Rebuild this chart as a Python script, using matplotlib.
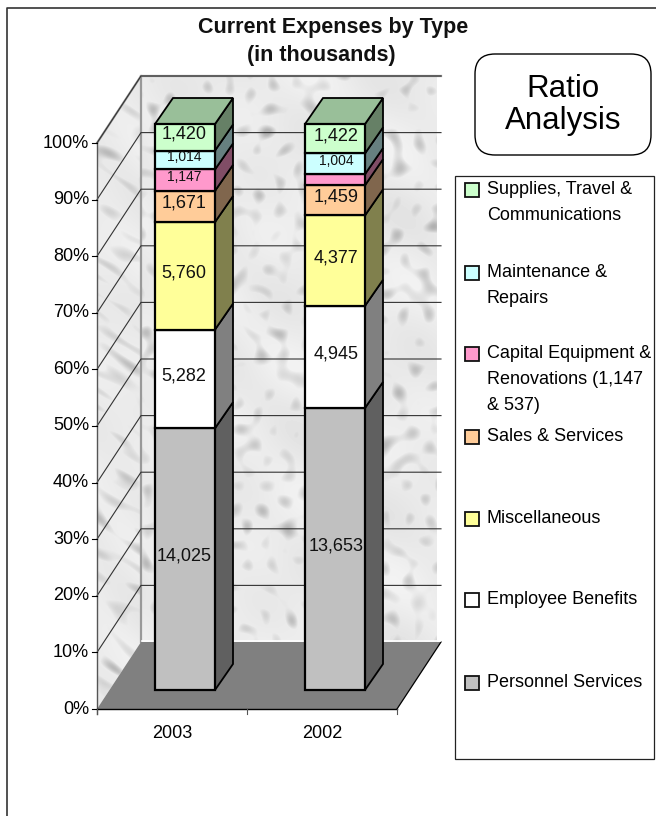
import matplotlib
matplotlib.use('Agg')
import matplotlib.pyplot as plt
from matplotlib.patches import FancyBboxPatch, Polygon, Rectangle
import numpy as np

plt.rcParams['font.family'] = ['Liberation Sans', 'DejaVu Sans']

years = ['2003', '2002']
personnel = [14025, 13653]
benefits = [5282, 4945]
misc = [5760, 4377]
sales = [1671, 1459]
capital = [1147, 537]
maintenance = [1014, 1004]
supplies = [1420, 1422]

series = [personnel, benefits, misc, sales, capital, maintenance, supplies]
front_colors = ['#C0C0C0', '#FFFFFF', '#FFFF99', '#FFCC99', '#FF99CC', '#CCFFFF', '#CCFFCC']
side_colors = ['#606060', '#808080', '#80804D', '#80664D', '#804D66', '#668080', '#668066']
top_color = '#99BF99'

legend_names = ['Supplies, Travel &\nCommunications', 'Maintenance &\nRepairs',
                'Capital Equipment &\nRenovations (1,147\n& 537)', 'Sales & Services',
                'Miscellaneous', 'Employee Benefits', 'Personnel Services']
legend_colors = front_colors[::-1]
legend_y = [190, 273, 354, 437, 519, 600, 683]

pct_ticks = list(range(0, 101, 10))

# plot geometry, in pixels of the saved picture
x0, x1 = 97, 397
y0, y100 = 709, 143
depth_x, depth_y = 44, -67
bar_lefts = [155, 305]
bar_w = 60
bar_dx, bar_dy = 18, -26
bar_base = 690


def pct_y(p, base=y0):
    return base - (y0 - y100) * p / 100.0


def marble(xx, yy):
    # layered sines at many directions, only for the stone look of the walls
    flecks = np.zeros_like(xx, dtype=float)
    for k in range(1, 41):
        wave = 2.6 + 20.0 / k
        angle = k * 2.39996
        flecks += np.sin((xx * np.cos(angle) + yy * np.sin(angle)) / wave + k * 1.7)
    flecks /= 40 ** 0.5
    broad = np.sin(xx / 31.0 + 1.3) * np.cos(yy / 23.0) + 0.5 * np.sin((xx - yy) / 17.0)
    return 0.92 + 0.02 * broad - 0.11 * np.clip(flecks - 0.3 + 0.3 * broad, 0, 2)


fig = plt.figure(figsize=(6.56, 8.16), dpi=100)
ax = fig.add_axes([0, 0, 1, 1])

# frame shows only on the top and left
ax.plot([7, 7, 656], [816, 8, 8], color='#333333', lw=1.2, zorder=0)

xx, yy = np.meshgrid(np.arange(90, 445), np.arange(70, 715))
back_tex = marble(xx, yy)
# side wall is the same stone squeezed along the diagonal
side_tex = marble((xx * 0.83 + yy * 0.55) * 0.4, (yy * 0.83 - xx * 0.55) * 1.5)

back = Polygon([(x0 + depth_x, y100 + depth_y), (x1 + depth_x - 4, y100 + depth_y),
                (x1 + depth_x - 4, y0 + depth_y), (x0 + depth_x, y0 + depth_y)],
               fc='none', ec='none', zorder=1.5)
side = Polygon([(x0, y100), (x0 + depth_x, y100 + depth_y),
                (x0 + depth_x, y0 + depth_y), (x0, y0)],
               fc='none', ec='none', zorder=1.5)
ax.add_patch(back)
ax.add_patch(side)
for wall, tex in [(back, back_tex), (side, side_tex)]:
    im = ax.imshow(tex, cmap='gray', vmin=0, vmax=1, extent=(90, 445, 715, 70),
                   aspect='auto', zorder=1, interpolation='bilinear')
    im.set_clip_path(wall)
ax.set_xlim(0, 656)
ax.set_ylim(816, 0)
ax.axis('off')

# wall edges
ax.plot([x0, x0 + depth_x, x1 + depth_x], [y100, y100 + depth_y, y100 + depth_y], color='#999999', lw=1.6, zorder=2)
ax.plot([x0 + depth_x] * 2, [y100 + depth_y, y0 + depth_y], color='#999999', lw=1.6, zorder=2)

# gridlines on both walls
for p in pct_ticks[1:]:
    y = pct_y(p)
    ax.plot([x0, x0 + depth_x, x1 + depth_x], [y, y + depth_y, y + depth_y],
            color='#333333', lw=0.8, zorder=2)

# floor
ax.add_patch(Polygon([(x0, y0), (x1, y0), (x1 + depth_x, y0 + depth_y), (x0 + depth_x, y0 + depth_y)],
                     fc='#808080', ec='none', zorder=3))
ax.plot([x1, x1 + depth_x], [y0, y0 + depth_y], color='black', lw=0.9, zorder=3)
ax.plot([x0 + depth_x + 1, x1 + depth_x - 1], [y0 + depth_y - 1] * 2, color='white', lw=1.2, zorder=3)

# axes lines
ax.plot([x0, x0], [y100, y0 + 5], color='#555555', lw=1.0, zorder=4)
ax.plot([x0, x1], [y0, y0], color='black', lw=1.0, zorder=4)
for p in pct_ticks:
    y = pct_y(p)
    ax.plot([x0 - 5, x0], [y, y], color='black', lw=0.8, zorder=4)
    ax.text(89, y, '%d%%' % p, ha='right', va='center', fontsize=13, color='black')
for x in [x0, (x0 + x1) / 2, x1]:
    ax.plot([x, x], [y0, y0 + 5], color='#555555', lw=0.8, zorder=4)
for i, year in enumerate(years):
    ax.text(x0 + 75 + 150 * i, 733, year, ha='center', va='center', fontsize=13)

# stacked bars
for i, year in enumerate(years):
    vals = [s[i] for s in series]
    total = float(sum(vals))
    left = bar_lefts[i]
    right = left + bar_w
    bottom = 0.0
    for j, v in enumerate(vals):
        top = bottom + v / total * 100
        yb = pct_y(bottom, bar_base)
        yt = pct_y(top, bar_base)
        ax.add_patch(Polygon([(right, yb), (right + bar_dx, yb + bar_dy),
                              (right + bar_dx, yt + bar_dy), (right, yt)],
                             fc=side_colors[j], ec='black', lw=1.3, zorder=5))
        ax.add_patch(Rectangle((left, yt), bar_w, yb - yt, fc=front_colors[j], ec='black', lw=1.6, zorder=6))
        if v > 600:
            size = 10 if v < 1200 else 13
            ax.text(left + bar_w / 2 - (1 if i == 0 else -1), (yb + yt) / 2 - 3, format(v, ','),
                    ha='center', va='center', fontsize=size, zorder=7, color='#111111')
        bottom = top
    yt = pct_y(100, bar_base)
    ax.add_patch(Polygon([(left, yt), (right, yt), (right + bar_dx, yt + bar_dy), (left + bar_dx, yt + bar_dy)],
                         fc=top_color, ec='black', lw=1.3, zorder=5))

ax.text(333.5, 27, 'Current Expenses by Type', ha='center', va='center', fontsize=15.5, fontweight='bold', color='#111111')
ax.text(321.5, 55, '(in thousands)', ha='center', va='center', fontsize=15.5, fontweight='bold', color='#111111')

# ratio box
ax.add_patch(FancyBboxPatch((475, 54), 176, 101, boxstyle='round,pad=0,rounding_size=20',
                            fc='white', ec='black', lw=1.0, zorder=2))
ax.text(563, 105, 'Ratio\nAnalysis', ha='center', va='center', fontsize=22.5, linespacing=1.05, zorder=3)

# legend box
ax.add_patch(Rectangle((455, 176), 199, 583, fc='white', ec='#222222', lw=0.9, zorder=1))
for name, color, y in zip(legend_names, legend_colors, legend_y):
    ax.add_patch(Rectangle((465, y - 7), 14, 14, fc=color, ec='#111111', lw=1.3, zorder=2))
    ax.text(487, y - 9, name, ha='left', va='top', fontsize=13, linespacing=1.7, zorder=2)

fig.savefig('out.png', dpi=100)
